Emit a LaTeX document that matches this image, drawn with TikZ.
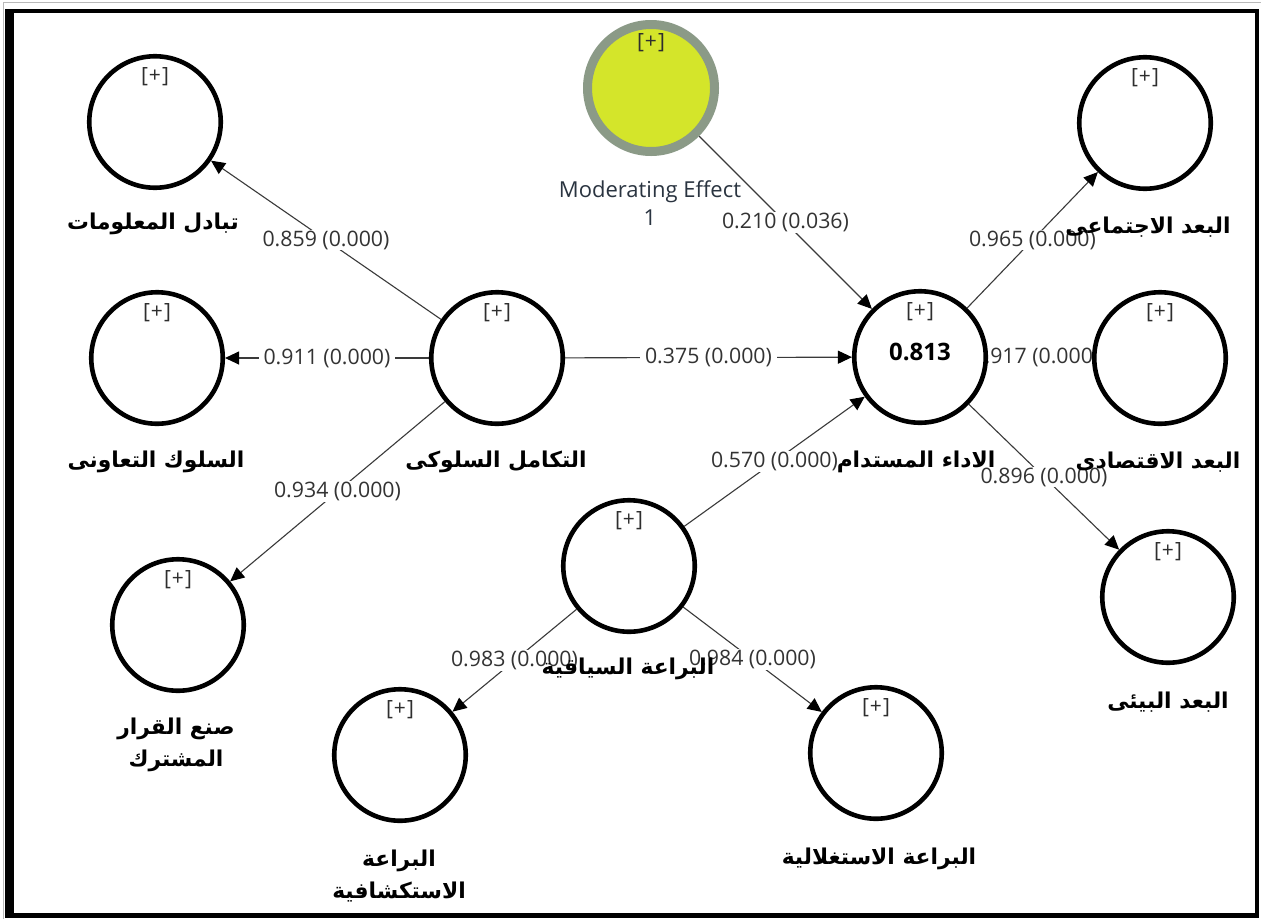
\documentclass[tikz,border=0pt]{standalone}
\usepackage{fontspec}
\setmainfont{Open Sans}
\newfontfamily\arabicfont[Script=Arabic]{DejaVu Sans}
\TeXXeTstate=1
\usetikzlibrary{arrows.meta,calc}
\pgfdeclarelayer{back}
\pgfdeclarelayer{bg}
\pgfsetlayers{back,bg,main}

\definecolor{edgegray}{HTML}{3A3A3A}
\definecolor{numgray}{HTML}{333333}
\definecolor{plusgray}{HTML}{2E2E2E}
\definecolor{modfill}{HTML}{D4E52A}
\definecolor{modring}{HTML}{8B9A87}
\definecolor{modtext}{HTML}{2A3440}

\newcommand\plustext{[\kern1pt+\kern1pt]}

\tikzset{
  plusmark/.style={font=\fontsize{21}{24}\selectfont, text=plusgray, inner sep=0pt},
  construct/.style={circle, draw=black, line width=4.6pt, fill=white,
    minimum size=131.5pt, inner sep=0pt,
    label={[plusmark,anchor=center,yshift=-23pt]north:{\plustext}}},
  moderator/.style={circle, draw=modring, line width=9pt, fill=modfill,
    minimum size=127pt, inner sep=0pt,
    label={[plusmark,anchor=center,yshift=-23pt]north:{\plustext}}},
  link/.style={draw=edgegray, line width=1.1pt,
    -{Triangle[length=14pt,width=13pt,color=black]}},
  coef/.style={fill=white, text=numgray, font=\fontsize{21.3}{24}\selectfont,
    inner xsep=5pt, inner ysep=1pt},
  arlabel/.style={font=\arabicfont\bfseries\fontsize{21.8}{32}\selectfont,
    align=center, text=black, inner sep=0pt},
}

\begin{document}
\begin{tikzpicture}[x=1pt,y=-1pt]
\useasboundingbox (0,0) rectangle (1261,919);

% window frame
\begin{pgfonlayer}{back}
  \fill[white] (0,0) rectangle (1261,919);
  \draw[gray!55, line width=1pt] (3,2.5) -- (1261,2.5);
  \draw[gray!55, line width=1pt] (3.5,2) -- (3.5,919);
  \fill[black] (5,9) rectangle (1259,918);
  \fill[white] (14,13) rectangle (1255,913);
\end{pgfonlayer}

% latent constructs
\node[construct] (info)    at (155,122) {};
\node[construct] (coop)    at (157,358) {};
\node[construct] (joint)   at (178,625) {};
\node[construct] (integ)   at (497,358) {};
\node[moderator] (mod)     at (651,88)  {};
\node[construct] (perf)    at (920,357) {};
\node[construct] (social)  at (1145,123) {};
\node[construct] (econ)    at (1160,358) {};
\node[construct] (env)     at (1168,597) {};
\node[construct] (context) at (629,566) {};
\node[construct] (explore) at (400,755) {};
\node[construct] (exploit) at (876,753) {};

% R-squared of the endogenous construct
\node[font=\bfseries\fontsize{24}{27}\selectfont, text=black, inner sep=0pt]
  (r2) at ($(perf)+(0,-5)$) {0.813};

% paths with coefficients (p-values)
\begin{pgfonlayer}{bg}
  \draw[link] (integ)   -- node[coef] {0.859 (0.000)} (info);
  \draw[link] (integ)   -- node[coef] {0.911 (0.000)} (coop);
  \draw[link] (integ)   -- node[coef] {0.934 (0.000)} (joint);
  \draw[link] (integ)   -- node[coef] {0.375 (0.000)} (perf);
  \draw[link] (mod)     -- node[coef] {0.210 (0.036)} (perf);
  \draw[link] (context) -- node[coef] {0.570 (0.000)} (perf);
  \draw[link] (perf)    -- node[coef] {0.965 (0.000)} (social);
  \draw[link] (perf)    -- node[coef,pos=0.46] {0.917 (0.000)} (econ);
  \draw[link] (perf)    -- node[coef] {0.896 (0.000)} (env);
  \draw[link] (context) -- node[coef] {0.983 (0.000)} (explore);
  \draw[link] (context) -- node[coef] {0.984 (0.000)} (exploit);
\end{pgfonlayer}

% construct names
\node[font=\fontsize{22}{28}\selectfont, text=modtext, align=center]
  (mod-t) at (650,203) {Moderating Effect\\1};
\node[arlabel] (info-t)    at (153,224) {\beginR تبادل المعلومات\endR};
\node[arlabel] (coop-t)    at (156,462) {\beginR السلوك التعاونى\endR};
\node[arlabel] (joint-t)   at (176,745) {\beginR صنع القرار\endR\\\beginR المشترك\endR};
\node[arlabel] (integ-t)   at (496,462) {\beginR التكامل السلوكى\endR};
\node[arlabel] (perf-t)    at (916,462) {\beginR الاداء المستدام\endR};
\node[arlabel] (social-t)  at (1148,227) {\beginR البعد الاجتماعى\endR};
\node[arlabel] (econ-t)    at (1158,462) {\beginR البعد الاقتصادى\endR};
\node[arlabel] (env-t)     at (1168,702) {\beginR البعد البيئى\endR};
\node[arlabel] (context-t) at (628,669) {\beginR البراعة السياقية\endR};
\node[arlabel] (explore-t) at (399,876) {\beginR البراعة\endR\\\beginR الاستكشافية\endR};
\node[arlabel] (exploit-t) at (879,859) {\beginR البراعة الاستغلالية\endR};
\end{tikzpicture}
\end{document}
